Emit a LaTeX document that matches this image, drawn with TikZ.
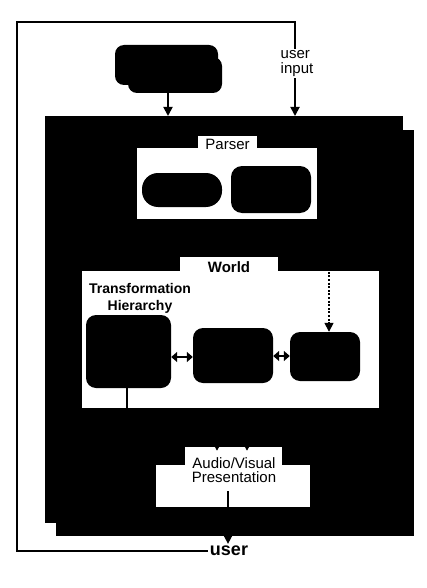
\documentclass[tikz,border=0pt]{standalone}
\usepackage{fontspec}
\setmainfont{Liberation Sans}
\usetikzlibrary{arrows.meta,calc}
\begin{document}
\begin{tikzpicture}[x=1pt,y=-1pt,
  blk/.style={fill=black,draw=none,inner sep=0pt},
  wbox/.style={fill=white,draw=none,inner sep=0pt},
  rbox/.style={fill=black,draw=none,inner sep=0pt,rounded corners=#1},
  rbox/.default=9pt,
  conn/.style={line width=1.8pt,-{Triangle[width=9pt,length=9pt]}},
  sconn/.style={line width=1.8pt,-{Triangle[width=6pt,length=6pt]}},
  dconn/.style={line width=1.4pt,{Triangle[width=10pt,length=6pt]}-{Triangle[width=10pt,length=6pt]}},
  txt/.style={font=\fontsize{15}{15}\selectfont,inner sep=0pt,align=center},
  btxt/.style={font=\fontsize{15}{16}\selectfont\bfseries,inner sep=0pt,align=center},
]
\useasboundingbox (0,0) rectangle (427,588);
% source blob
\node[rbox, minimum width=94pt, minimum height=36pt] (blobB) at (175,75) {};
\node[rbox, minimum width=103pt, minimum height=40pt] (blobA) at (166.5,65) {};
% big frames
\node[blk, minimum width=358pt, minimum height=406pt] (frame2) at (235,333) {};
\node[blk, minimum width=358pt, minimum height=407pt] (frame1) at (224,319.5) {};
% parser
\node[wbox, minimum width=180pt, minimum height=71pt] (parser) at (227,183.5) {};
\node[wbox, minimum width=59pt, minimum height=16pt, txt] (plab) at (227.5,144.5) {Parser};
\node[rbox=16pt, minimum width=80pt, minimum height=34pt] (p1) at (182,190) {};
\node[rbox=11pt, minimum width=80pt, minimum height=47pt] (p2) at (271,189.5) {};
% world
\node[wbox, minimum width=297pt, minimum height=137pt] (world) at (230.5,339.5) {};
\node[wbox, minimum width=98pt, minimum height=20pt, btxt] (wlab) at (229,267) {World};
\node[btxt, font=\fontsize{14}{17}\selectfont\bfseries] (thl) at (140,298.5) {Transformation\\Hierarchy};
\node[rbox=10pt, minimum width=85pt, minimum height=73pt] (A) at (128.5,351.5) {};
\node[rbox=10pt, minimum width=80pt, minimum height=55pt] (B) at (233,355.5) {};
\node[rbox=10pt, minimum width=70pt, minimum height=49pt] (C) at (325,356.5) {};
% presentation
\node[wbox, minimum width=154pt, minimum height=42pt] (pres) at (233,486) {};
\node[wbox, minimum width=97pt, minimum height=18pt] (plabel) at (233.5,456) {};
\node[txt, font=\fontsize{15}{14.5}\selectfont] (prestxt) at (234,470) {Audio/Visual\\Presentation};
% user
\node[btxt, font=\fontsize{18}{18}\selectfont\bfseries, inner sep=2pt] (user) at (229,551) {user};
% coordinates
\coordinate (fin) at (168,116);
\coordinate (uin) at (295,116);
\coordinate (presout) at (228,491);
\coordinate (pa1) at ($(plabel.north)+(-16.5,4)$);
\coordinate (pa2) at ($(plabel.north)+(13.5,4)$);
% connectors
\draw[conn] (blobB.south -| fin) -- (fin);
\draw[line width=1.8pt,-{Triangle[width=9pt,length=9pt]}] (user.west) -| (17,22) -| (uin);
\node[wbox, txt, align=left, font=\fontsize{15}{15.5}\selectfont, inner sep=1pt] (uinput) at (297,63.5) {user\\input};
\draw[conn] (presout) -- (presout |- user.north);
\draw[dconn] (A.east |- 0,357) -- (B.west |- 0,357);
\draw[dconn] (B.east |- 0,356) -- (C.west |- 0,356);
\draw[line width=1.5pt,-{Triangle[width=9pt,length=9pt]}, dash pattern=on 2pt off 1.6pt] (world.north -| C.north) ++(4,1) -- ($(C.north)+(4,0)$);
\draw[sconn] (A.south -| 127,0) -- (127,430) -| (pa1);
\draw[sconn] (world.south -| pa2) -- (pa2);
\end{tikzpicture}
\end{document}
